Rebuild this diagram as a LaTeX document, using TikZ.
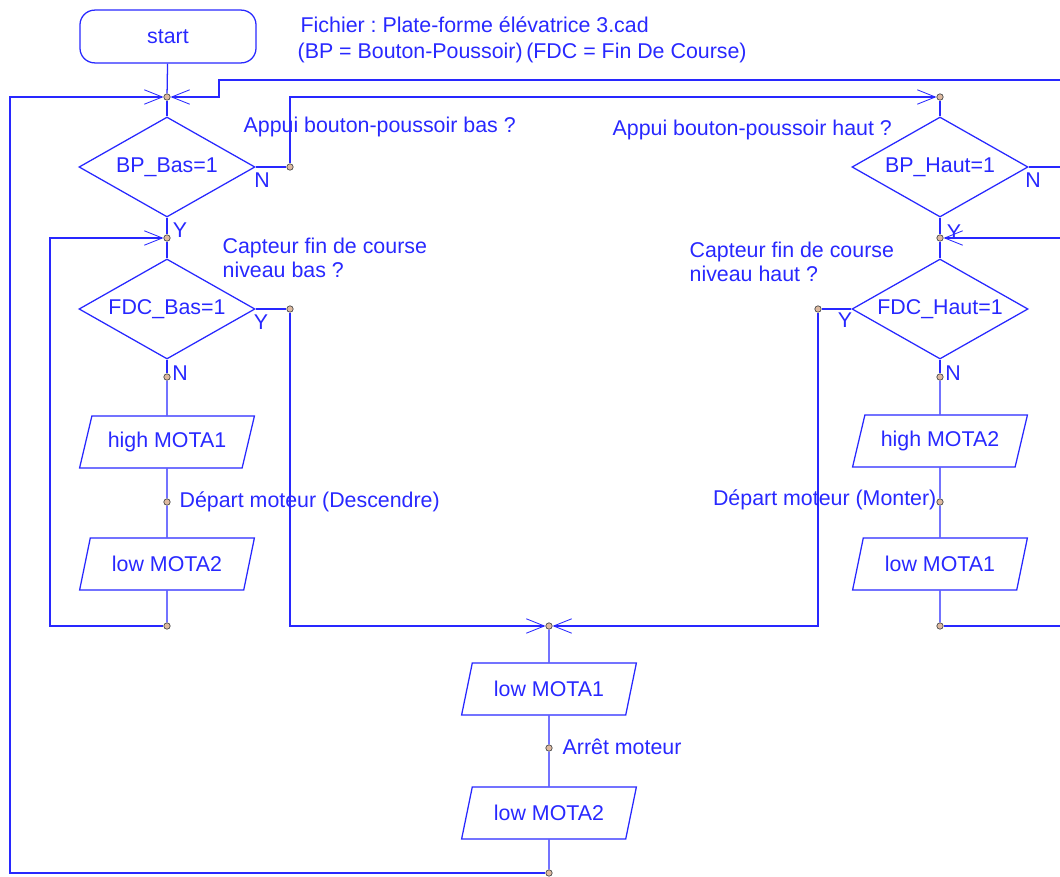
\documentclass[tikz,border=0pt]{standalone}
\usepackage{fontspec}
\setmainfont{Liberation Sans}
\frenchspacing
\usetikzlibrary{
  arrows.meta,
  positioning,
  calc,
  shapes.geometric
}
\definecolor{bleu}{RGB}{40,40,255}
\definecolor{beige}{RGB}{222,186,160}

\begin{document}
\begin{tikzpicture}[
      x=0.025cm, y=-0.025cm,
      color=bleu,
      line width=0.9pt,
      every node/.style={font=\fontsize{15.2}{17.5}\selectfont},
      debut/.style={draw, rounded corners=0.37cm, minimum width=4.4cm, minimum height=1.32cm},
      test/.style={draw, diamond, aspect=1.7, minimum width=4.4cm, minimum height=2.5cm, inner sep=0pt},
      sortie/.style={draw, trapezium, trapezium left angle=64, trapezium right angle=116, trapezium stretches=true, minimum width=4.375cm, minimum height=1.3cm, inner sep=0pt},
      pt/.style={circle, draw=black!70, fill=beige, line width=0.5pt, inner sep=0pt, minimum size=0.16cm},
      note/.style={inner sep=0pt, align=left},
      fl/.style={-{Straight Barb[length=0.45cm, width=0.36cm, line width=0.6pt]}}
  ]
      \useasboundingbox (0,0) rectangle (1060,876);
      \clip (0,0) rectangle (1060,876);

      % En-tete
      \node[debut] (start) at (168,36.5) {start};
      \node[note, anchor=west] (fichier) at (300,25) {Fichier : Plate-forme élévatrice 3.cad};
      \node[note, anchor=west] (legende) at (297,53) {(BP = Bouton-Poussoir)\,(FDC = Fin De Course)};

      % Colonne descente
      \node[pt] (j0) at (167,97) {};
      \node[test] (bpb) at (167,167) {BP\_Bas=1};
      \node[pt] (n1) at (290,167) {};
      \node[pt] (j1) at (167,238) {};
      \node[test] (fdcb) at (167,309) {FDC\_Bas=1};
      \node[pt] (y1) at (290,309) {};
      \node[pt] (n2) at (167,377) {};
      \node[sortie] (hm1) at (167,442) {high MOTA1};
      \node[pt] (d1) at (167,502) {};
      \node[sortie] (lm2) at (167,564) {low MOTA2};
      \node[pt] (b1) at (167,626) {};

      % Colonne montee
      \node[pt] (j3) at (940,97) {};
      \node[test] (bph) at (940,167) {BP\_Haut=1};
      \node[pt] (j4) at (940,238) {};
      \node[test] (fdch) at (940,309) {FDC\_Haut=1};
      \node[pt] (y2) at (818,309) {};
      \node[pt] (n3) at (940,377) {};
      \node[sortie] (hm2) at (940,441) {high MOTA2};
      \node[pt] (d2) at (940,502) {};
      \node[sortie] (lm1) at (940,564) {low MOTA1};
      \node[pt] (b2) at (940,626) {};

      % Arret
      \node[pt] (j5) at (549,626) {};
      \node[sortie] (lm1c) at (549,689) {low MOTA1};
      \node[pt] (a1) at (549,748) {};
      \node[sortie] (lm2c) at (549,813) {low MOTA2};
      \node[pt] (jbas) at (549,873) {};

      % Commentaires
      \node[note, anchor=west] (qbpb) at (243,127) {Appui bouton-poussoir bas ?};
      \node[note, anchor=west] (qbph) at (612,130) {Appui bouton-poussoir haut ?};
      \node[note, anchor=west] (qfdcb) at (222,258) {Capteur fin de course\\niveau bas ?};
      \node[note, anchor=west] (qfdch) at (689,262) {Capteur fin de course\\niveau haut ?};
      \node[note, anchor=west] (cdesc) at (179,502) {Départ moteur (Descendre)};
      \node[note, anchor=east] (cmont) at (937,500) {Départ moteur (Monter)};
      \node[note, anchor=west] (carret) at (562,747) {Arrêt moteur};

      % Reponses
      \node[note] at (262,180) {N};
      \node[note] at (180,230) {Y};
      \node[note] at (261,322) {Y};
      \node[note] at (180,373) {N};
      \node[note] at (1033,180) {N};
      \node[note] at (954,232) {Y};
      \node[note] at (845,320) {Y};
      \node[note] at (953,373) {N};

      % Coins des boucles
      \coordinate (cg) at (10,873);
      \coordinate (bcl) at (50,626);
      \coordinate (hcg) at (219,80);
      \coordinate (hcd) at (1085,80);
      \coordinate (bcd) at (1072,626);

      % Liaisons descente
      \draw (start) -- (j0);
      \draw (j0) -- (bpb);
      \draw (bpb.east) -- (n1);
      \draw[fl] (n1) |- (j3);
      \draw (bpb) -- (j1);
      \draw (j1) -- (fdcb);
      \draw (fdcb.east) -- (y1);
      \draw[fl] (y1) |- (j5);
      \draw (fdcb) -- (n2);
      \draw (n2) -- (hm1);
      \draw (hm1) -- (d1);
      \draw (d1) -- (lm2);
      \draw (lm2) -- (b1);
      \draw[fl] (b1) -- (bcl) |- (j1);

      % Liaisons montee
      \draw (j3) -- (bph);
      \draw[fl] (bph.east) -| (hcd) -- (hcg) |- (j0);
      \draw (bph) -- (j4);
      \draw (j4) -- (fdch);
      \draw (fdch.west) -- (y2);
      \draw[fl] (y2) |- (j5);
      \draw (fdch) -- (n3);
      \draw (n3) -- (hm2);
      \draw (hm2) -- (d2);
      \draw (d2) -- (lm1);
      \draw (lm1) -- (b2);
      \draw[fl] (b2) -- (bcd) |- (j4);

      % Liaisons arret
      \draw (j5) -- (lm1c);
      \draw (lm1c) -- (a1);
      \draw (a1) -- (lm2c);
      \draw (lm2c) -- (jbas);
      \draw[fl] (jbas) -- (cg) |- (j0);
  \end{tikzpicture}
\end{document}
